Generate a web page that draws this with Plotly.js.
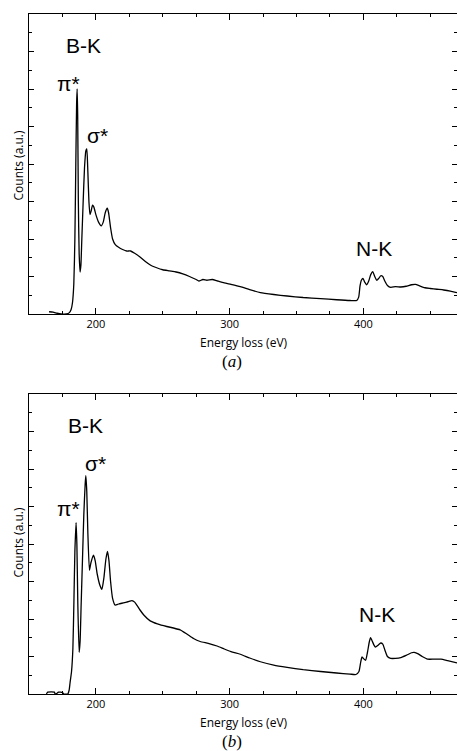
<!DOCTYPE html>
<html>
<head>
<meta charset="utf-8">
<script src="https://cdn.plot.ly/plotly-3.0.1.min.js"></script>
<style>html,body{margin:0;padding:0;background:#fff;}#chart{width:457px;height:751px;}</style>
</head>
<body>
<div id="chart"></div>
<script>
// Panel (a) spectrum
const energyA = [165,168,171,174,178,180,181.5,182.5,183.5,184.3,185,185.6,186,186.4,186.9,187.5,188.2,188.8,189.5,190.5,191.5,192.5,193.2,194,194.8,195.6,196.5,197.5,198.5,200,202,204,205.5,207,208.5,209.5,211,212.5,214.5,217,220,223,226,229,233,237,241,245,250,255,260,265,270,275,277,280,283,287,291,296,301,308,315,323,333,343,355,368,380,390,395,396.5,397.5,398.5,399.7,401,402.5,404,405.5,407,408.5,410,411.5,413,414.5,416,418,420.5,424,428,432,436,439,442,446,450,455,460,465,470];
const countsA = [0.06,0.05,0.02,0.0,0.0,0.03,0.12,0.3,0.8,2.0,4.0,5.6,6.0,5.3,3.0,1.6,1.12,1.3,2.0,3.0,3.9,4.35,4.4,3.8,3.0,2.65,2.75,2.9,2.85,2.65,2.45,2.35,2.45,2.7,2.82,2.7,2.3,2.0,1.85,1.78,1.72,1.68,1.68,1.62,1.52,1.4,1.3,1.24,1.18,1.15,1.12,1.07,1.0,0.92,0.88,0.92,0.9,0.92,0.88,0.83,0.79,0.73,0.65,0.57,0.52,0.48,0.44,0.41,0.38,0.36,0.36,0.45,0.75,0.9,0.95,0.85,0.78,0.88,1.05,1.13,1.0,0.9,0.95,1.02,1.0,0.88,0.76,0.71,0.73,0.72,0.74,0.78,0.79,0.75,0.7,0.68,0.66,0.64,0.61,0.57];

// Panel (b) spectrum
const energyB = [163,164,169,169.5,171,172,175,176,179,180,180.7,181.8,182.8,183.6,184.3,185.2,185.8,186.5,187.5,188.2,189,190,191,192,192.5,193.2,194,195.2,196.3,198.2,199.5,201,203,204.5,206,207.5,208.7,209.8,211,212.5,214.4,217,220.6,224,227,229,231,233,236,240.6,246,253,258,263,268,273,278,284,290.6,296,301,308,315,323,333,343,355,368,380,390,394.4,396.7,398,399,400.5,401.7,403,404.5,405.4,406.5,408,409,411,413,414.5,416,418,420.4,424,428,432,436,438,441,444,448,453,458,463,470];
const countsB = [0.0,0.05,0.05,0.0,0.02,0.05,0.04,0.0,0.0,0.1,0.3,0.6,1.2,2.5,3.8,4.57,4.0,2.4,1.11,1.4,2.4,3.6,4.8,5.6,5.82,5.4,4.3,3.3,3.5,3.7,3.55,3.2,2.9,2.79,3.1,3.6,3.8,3.55,3.0,2.55,2.37,2.4,2.43,2.46,2.49,2.45,2.35,2.24,2.1,1.95,1.87,1.8,1.76,1.71,1.6,1.48,1.4,1.35,1.28,1.2,1.13,1.06,0.96,0.86,0.77,0.71,0.65,0.6,0.56,0.53,0.52,0.6,0.85,0.99,0.93,0.9,1.1,1.4,1.5,1.42,1.3,1.25,1.3,1.36,1.33,1.18,1.0,0.95,0.95,0.97,1.03,1.1,1.11,1.07,1.0,0.93,0.93,0.93,0.89,0.83];

const xTickVals = [200, 300, 400];
const xTickText = ['200', '300', '400'];
const xTitle = 'Energy loss (eV)';
const yTitle = 'Counts (a.u.)';
const panelLabels = ['(<i>a</i>)', '(<i>b</i>)'];
// in-plot peak labels: [text, energy, counts]
const labelsA = [['B-K', 190.5, 7.15], ['π*', 179.5, 6.15], ['σ*', 201, 4.75], ['N-K', 408, 1.75]];
const labelsB = [['B-K', 192.5, 7.15], ['σ*', 200, 6.15], ['π*', 179.5, 4.95], ['N-K', 410, 2.12]];

const lineStyle = {color: '#000', width: 1.3, shape: 'spline', smoothing: 0.5};
const traces = [
  {x: energyA, y: countsA, type: 'scatter', mode: 'lines', line: lineStyle, xaxis: 'x', yaxis: 'y', hoverinfo: 'skip'},
  {x: energyB, y: countsB, type: 'scatter', mode: 'lines', line: lineStyle, xaxis: 'x2', yaxis: 'y2', hoverinfo: 'skip'}
];

const tickFont = {family: 'Open Sans, Liberation Sans, sans-serif', size: 11, color: '#000'};
function xAxis(anchor) {
  return {
    anchor: anchor, domain: [0, 1], range: [150, 470],
    showline: true, linecolor: '#000', linewidth: 1, mirror: 'ticks',
    ticks: 'inside', ticklen: 6, tickwidth: 1, tickcolor: '#000',
    tickmode: 'array', tickvals: xTickVals, ticktext: xTickText,
    tickfont: tickFont, showgrid: false, zeroline: false,
    minor: {dtick: 25, tick0: 0, ticks: 'inside', ticklen: 3, tickwidth: 1, tickcolor: '#000', showgrid: false}
  };
}
function yAxis(anchor, dom) {
  return {
    anchor: anchor, domain: dom, range: [0, 8],
    showline: true, linecolor: '#000', linewidth: 1, mirror: 'ticks',
    ticks: 'inside', ticklen: 5, tickwidth: 1, tickcolor: '#000',
    dtick: 1, tick0: 0, showticklabels: false, showgrid: false, zeroline: false,
    minor: {dtick: 0.5, tick0: 0, ticks: 'inside', ticklen: 3, tickwidth: 1, tickcolor: '#000', showgrid: false}
  };
}

const H = 751;
const domA = [(H - 314) / H, (H - 14) / H];
const domB = [(H - 694) / H, (H - 394) / H];

const labelFont = {family: 'Liberation Sans, Arial, sans-serif', size: 21, color: '#000'};
const annotations = [];
labelsA.forEach(l => annotations.push({text: l[0], x: l[1], y: l[2], xref: 'x', yref: 'y', showarrow: false, font: labelFont, xanchor: 'center', yanchor: 'middle'}));
labelsB.forEach(l => annotations.push({text: l[0], x: l[1], y: l[2], xref: 'x2', yref: 'y2', showarrow: false, font: labelFont, xanchor: 'center', yanchor: 'middle'}));

const smallFont = {family: 'Open Sans, Liberation Sans, sans-serif', size: 12, color: '#000'};
const panelFont = {family: 'Liberation Serif, DejaVu Serif, serif', size: 17, color: '#000'};
function px2x(px) { return (px - 29) / 428; }
function py2y(py) { return (H - py) / H; }
[[166, 342, 361], [543, 722, 741]].forEach((p, i) => {
  annotations.push({text: yTitle, x: px2x(17.5), y: py2y(p[0]), xref: 'paper', yref: 'paper', showarrow: false, textangle: -90, font: smallFont, xanchor: 'center', yanchor: 'middle'});
  annotations.push({text: xTitle, x: px2x(244), y: py2y(p[1]), xref: 'paper', yref: 'paper', showarrow: false, font: smallFont, xanchor: 'center', yanchor: 'middle'});
  annotations.push({text: panelLabels[i], x: px2x(232), y: py2y(p[2]), xref: 'paper', yref: 'paper', showarrow: false, font: panelFont, xanchor: 'center', yanchor: 'middle'});
});

const layout = {
  width: 457, height: 751,
  margin: {l: 29, r: 0, t: 0, b: 0},
  paper_bgcolor: '#fff', plot_bgcolor: '#fff',
  showlegend: false,
  xaxis: xAxis('y'), yaxis: yAxis('x', domA),
  xaxis2: xAxis('y2'), yaxis2: yAxis('x2', domB),
  annotations: annotations
};

Plotly.newPlot('chart', traces, layout, {staticPlot: true, displayModeBar: false});
</script>
</body>
</html>
